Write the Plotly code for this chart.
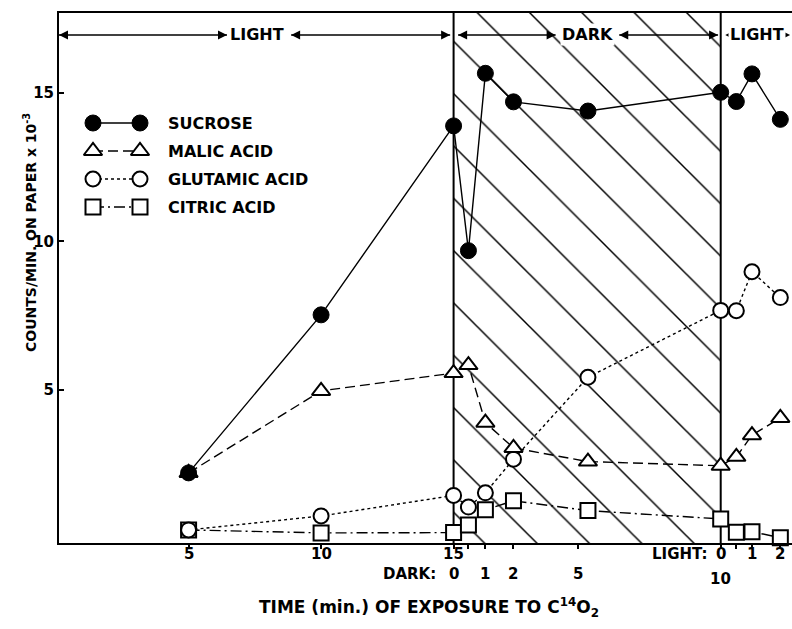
import plotly.graph_objects as go

# ---------------- data ----------------
# Position of each sample on the composite time axis (light 0-15 min, then dark 0-10 min, then light 0-2 min)
x_pos = [5, 10, 15, 15.56, 16.2, 17.26, 20.07, 25.08, 25.67, 26.26, 27.33]

sucrose = [2.21, 7.53, 13.89, 9.69, 15.66, 14.70, 14.39, 15.02, 14.71, 15.64, 14.11]
malic = [2.21, 4.97, 5.57, 5.84, 3.90, 3.05, 2.59, 2.45, 2.75, 3.48, 4.06]
glutamic = [0.29, 0.76, 1.45, 1.06, 1.54, 2.67, 5.43, 7.68, 7.67, 8.98, 8.11]
citric = [0.29, 0.19, 0.20, 0.46, 0.97, 1.27, 0.94, 0.66, 0.21, 0.23, 0.03]

# axis ticks
light1_ticks = [5, 10, 15]
light1_labels = ["5", "10", "15"]
dark_ticks = [15, 15.56, 16.2, 17.26, 19.69, 25.08]
dark_labels = ["0", "", "1", "2", "5", "10"]
light2_ticks = [25.08, 25.67, 26.26, 27.33]
light2_labels = ["0", "", "1", "2"]
y_ticks = [5, 10, 15]

DARK_START, DARK_END = 15, 25.08
X_RANGE = [0.11, 27.77]
Y_RANGE = [-0.15, 17.69]

series_names = ["SUCROSE", "MALIC ACID", "GLUTAMIC ACID", "CITRIC ACID"]

# period bar at top: (start, end) segments of the double arrows
ARROW_Y = 16.95
arrow_segments = [(0.11, 6.45), (8.87, 14.87), (15.17, 18.85), (21.25, 24.98)]
period_labels = [("LIGHT", 7.6), ("DARK", 20.07), ("LIGHT", 26.45)]

FONT = "DejaVu Sans"
BLACK = "black"

styles = {
    "SUCROSE": dict(symbol="circle", size=16, color=BLACK, lw=1, dash="solid"),
    "MALIC ACID": dict(symbol="triangle-up", size=16, color="white", lw=2, dash="10px,5px"),
    "GLUTAMIC ACID": dict(symbol="circle", size=15, color="white", lw=2, dash="3px,3px"),
    "CITRIC ACID": dict(symbol="square", size=15, color="white", lw=2, dash="11px,4px,2px,4px"),
}
values = {"SUCROSE": sucrose, "MALIC ACID": malic, "GLUTAMIC ACID": glutamic, "CITRIC ACID": citric}

fig = go.Figure()

# hatched dark period
fig.add_trace(go.Bar(
    x=[(DARK_START + DARK_END) / 2], y=[Y_RANGE[1] - Y_RANGE[0]], base=[Y_RANGE[0]],
    width=[DARK_END - DARK_START],
    marker=dict(color="rgba(0,0,0,0)", line=dict(width=0),
                pattern=dict(shape="\\", size=37, solidity=0.04, fgcolor=BLACK, fgopacity=1,
                             bgcolor="rgba(0,0,0,0)", fillmode="overlay")),
    hoverinfo="skip", showlegend=False))

# top period arrows
for a, b in arrow_segments:
    fig.add_trace(go.Scatter(
        x=[a, b], y=[ARROW_Y, ARROW_Y], mode="lines+markers", showlegend=False, hoverinfo="skip",
        line=dict(color=BLACK, width=1.5),
        marker=dict(symbol=["arrow-left", "arrow-right"], size=9, color=BLACK,
                    line=dict(width=0)), cliponaxis=False))
fig.add_trace(go.Scatter(
    x=[25.25, 27.7], y=[ARROW_Y, ARROW_Y], mode="markers", showlegend=False, hoverinfo="skip",
    marker=dict(symbol=["arrow-left", "arrow-right"], size=9, color=BLACK, line=dict(width=0)),
    cliponaxis=False))

for name in ["CITRIC ACID", "GLUTAMIC ACID", "MALIC ACID", "SUCROSE"]:
    s = styles[name]
    fig.add_trace(go.Scatter(
        x=x_pos, y=values[name], mode="lines+markers", name=name, showlegend=False,
        line=dict(color=BLACK, width=1.4, dash=s["dash"]),
        marker=dict(symbol=s["symbol"], size=s["size"], color=s["color"],
                    line=dict(color=BLACK, width=s["lw"])),
        cliponaxis=False))

# custom legend (drawn on a hidden pixel-space overlay)
leg_rows = [123, 151, 179, 207]
for name, yy in zip(series_names, leg_rows):
    s = styles[name]
    fig.add_trace(go.Scatter(
        x=[93, 140], y=[yy, yy], xaxis="x2", yaxis="y2", mode="lines+markers",
        showlegend=False, hoverinfo="skip",
        line=dict(color=BLACK, width=1.4, dash=s["dash"]),
        marker=dict(symbol=s["symbol"], size=s["size"], color=s["color"],
                    line=dict(color=BLACK, width=s["lw"]))))
    fig.add_annotation(x=166, y=yy, xref="x2", yref="y2", text=name, showarrow=False,
                       xanchor="left", yanchor="middle",
                       font=dict(family=FONT, size=16, color=BLACK, weight="bold"))

# boundaries of dark period
for xb in (DARK_START, DARK_END):
    fig.add_shape(type="line", x0=xb, x1=xb, y0=0, y1=1, xref="x", yref="paper",
                  line=dict(color=BLACK, width=2), layer="below")

for txt, xc in period_labels:
    fig.add_annotation(x=xc, y=ARROW_Y, xref="x", yref="y", text=txt, showarrow=False,
                       xanchor="center", yanchor="middle", bgcolor="white",
                       font=dict(family=FONT, size=16, color=BLACK, weight="bold"))

# x tick labels (two rows)
lab_font = dict(family=FONT, size=15, color=BLACK, weight="bold")
ROW1, ROW2 = -11, -31
fig.add_annotation(x=-0.04, y=0, xref="x", yref="paper", yshift=ROW1, text="LIGHT:",
                   showarrow=False, xanchor="left", yanchor="middle", font=lab_font)
for xv, t in zip(light1_ticks, light1_labels):
    fig.add_annotation(x=xv, y=0, xref="x", yref="paper", yshift=ROW1, text=t,
                       showarrow=False, xanchor="center", yanchor="middle", font=lab_font)
fig.add_annotation(x=24.65, y=0, xref="x", yref="paper", yshift=ROW1, text="LIGHT:",
                   showarrow=False, xanchor="right", yanchor="middle", font=lab_font)
for xv, t in zip(light2_ticks, light2_labels):
    if t:
        fig.add_annotation(x=xv, y=0, xref="x", yref="paper", yshift=ROW1, text=t,
                           showarrow=False, xanchor="center", yanchor="middle", font=lab_font)
fig.add_annotation(x=14.4, y=0, xref="x", yref="paper", yshift=ROW2, text="DARK:",
                   showarrow=False, xanchor="right", yanchor="middle", font=lab_font)
for xv, t in zip(dark_ticks, dark_labels):
    if t:
        fig.add_annotation(x=xv, y=0, xref="x", yref="paper",
                           yshift=ROW2 - (5 if t == "10" else 0), text=t,
                           showarrow=False, xanchor="center", yanchor="middle", font=lab_font)

# axis titles
fig.add_annotation(x=0.505, y=0, xref="paper", yref="paper", yshift=-64,
                   text="TIME (min.) OF EXPOSURE TO C<sup>14</sup>O<sub>2</sub>",
                   showarrow=False, xanchor="center", yanchor="middle",
                   font=dict(family=FONT, size=17, color=BLACK, weight="bold"))
fig.add_annotation(x=0, y=0.585, xref="paper", yref="paper", xshift=-29,
                   text="COUNTS/MIN. ON PAPER x 10<sup>-3</sup>", textangle=-90,
                   showarrow=False, xanchor="center", yanchor="middle",
                   font=dict(family=FONT, size=14, color=BLACK, weight="bold"))

all_xticks = sorted(set(light1_ticks + dark_ticks + light2_ticks))
fig.update_layout(
    width=792, height=629,
    margin=dict(l=59, r=0, t=13, b=86),
    paper_bgcolor="white", plot_bgcolor="white",
    font=dict(family=FONT, size=15, color=BLACK, weight="bold"),
    showlegend=False, bargap=0,
    xaxis=dict(range=X_RANGE, showgrid=False, zeroline=False, showline=True, linecolor=BLACK,
               linewidth=2, mirror=True, ticks="outside", ticklen=4, tickwidth=1.5,
               tickcolor=BLACK, tickvals=all_xticks, showticklabels=False),
    yaxis=dict(range=Y_RANGE, showgrid=False, zeroline=False, showline=True, linecolor=BLACK,
               linewidth=2, ticks="inside", ticklen=5, tickwidth=1.5, tickcolor=BLACK,
               tickvals=y_ticks, ticktext=[str(v) for v in y_ticks],
               tickfont=dict(family=FONT, size=15, color=BLACK, weight="bold")),
    xaxis2=dict(overlaying="x", range=[59, 792], visible=False),
    yaxis2=dict(overlaying="y", range=[543, 13], visible=False),
)

fig.write_html("out.html", config={"displayModeBar": False},
               post_script="document.body.style.margin='0';")
